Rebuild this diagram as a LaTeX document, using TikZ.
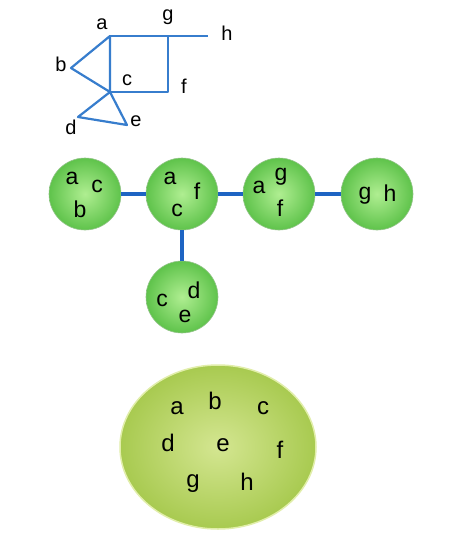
\documentclass[tikz,border=0pt]{standalone}
\usepackage{fontspec}
\setmainfont{Liberation Sans}
\usetikzlibrary{shapes.geometric}
\definecolor{edgeblue}{RGB}{55,125,205}
\definecolor{linkblue}{RGB}{30,100,195}
\definecolor{ballin}{RGB}{175,238,145}
\definecolor{ballout}{RGB}{95,195,75}
\definecolor{ellin}{RGB}{212,230,145}
\definecolor{ellout}{RGB}{168,202,80}
\definecolor{ellrim}{RGB}{225,238,170}
\tikzset{
  gedge/.style={draw=edgeblue, line width=2.2pt},
  glab/.style={inner sep=0pt, font=\fontsize{20}{20}\selectfont},
  ball/.style={circle, minimum size=72pt, inner sep=0pt, draw=ballout!80!black!60!white, line width=0.6pt, inner color=ballin, outer color=ballout},
  blab/.style={inner sep=0pt, font=\fontsize{23}{23}\selectfont},
  link/.style={draw=linkblue, line width=3.5pt},
  elab/.style={inner sep=0pt, font=\fontsize{24}{24}\selectfont},
}
\begin{document}
\begin{tikzpicture}[x=1pt,y=-1pt]
\useasboundingbox (0,0) rectangle (466,547);
\fill[white] (0,0) rectangle (466,547);
% top graph
\coordinate (va) at (110,36);
\coordinate (vg) at (168,36);
\coordinate (vh) at (208,36);
\coordinate (vb) at (71,68);
\coordinate (vc) at (110,92);
\coordinate (vf) at (168,92);
\coordinate (vd) at (78,117);
\coordinate (ve) at (127,125);
\draw[gedge, line join=round] (va) -- (vg) -- (vh);
\draw[gedge, line join=round] (va) -- (vb) -- (vc) -- cycle;
\draw[gedge, line join=round] (vc) -- (vf) -- (vg);
\draw[gedge, line join=round] (vc) -- (vd) -- (ve) -- cycle;
\node[glab] (la) at (102,24) {a};
\node[glab] (lg) at (168,17) {g};
\node[glab] (lh) at (227,33) {h};
\node[glab] (lb) at (61,64) {b};
\node[glab] (lc) at (127,80) {c};
\node[glab] (lf) at (184,86) {f};
\node[glab] (ld) at (71,127) {d};
\node[glab] (le) at (136,121) {e};
% tree of balls
\node[ball] (b1) at (85,194) {};
\node[ball] (b2) at (182,194) {};
\node[ball] (b3) at (279,194) {};
\node[ball] (b4) at (377,194) {};
\node[ball] (b5) at (182,297) {};
\draw[link] (b1.east) -- (b2.west);
\draw[link] (b2.east) -- (b3.west);
\draw[link] (b3.east) -- (b4.west);
\draw[link] (b2.south) -- (b5.north);
\node[blab] (t1a) at (72,178) {a};
\node[blab] (t1c) at (97,186) {c};
\node[blab] (t1b) at (80,209) {b};
\node[blab] (t2a) at (170,178) {a};
\node[blab] (t2f) at (197,191) {f};
\node[blab] (t2c) at (177,210) {c};
\node[blab] (t3a) at (259,187) {a};
\node[blab] (t3g) at (281,177) {g};
\node[blab] (t3f) at (280,208) {f};
\node[blab] (t4g) at (365,196) {g};
\node[blab] (t4h) at (390,193) {h};
\node[blab] (t5c) at (162,300) {c};
\node[blab] (t5d) at (194,290) {d};
\node[blab] (t5e) at (185,316) {e};
% big ellipse
\node[ellipse, minimum width=196pt, minimum height=164pt, inner sep=0pt, draw=ellrim, line width=1.5pt, inner color=ellin, outer color=ellout] (big) at (218,447) {};
\node[elab] (ea) at (177,408) {a};
\node[elab] (eb) at (215,401) {b};
\node[elab] (ec) at (263,408) {c};
\node[elab] (ed) at (168,443) {d};
\node[elab] (ee) at (223,445) {e};
\node[elab] (ef) at (280,450) {f};
\node[elab] (eg) at (193,484) {g};
\node[elab] (eh) at (247,482) {h};
\end{tikzpicture}
\end{document}
